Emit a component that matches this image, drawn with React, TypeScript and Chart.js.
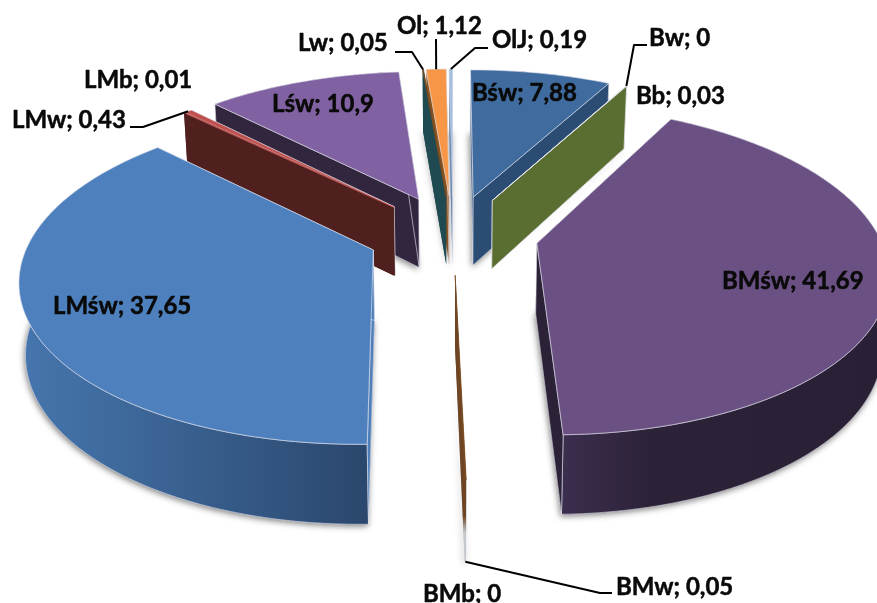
import React, { useEffect, useRef } from "react";
import { Chart, registerables } from "chart.js";

Chart.register(...registerables);

// ---- data ----
const categories = ["Bśw", "Bw", "Bb", "BMśw", "BMw", "BMb", "LMśw", "LMb", "LMw", "Lśw", "Lw", "Ol", "OlJ"];
const shares = [7.88, 0, 0.03, 41.69, 0.05, 0, 37.65, 0.01, 0.43, 10.9, 0.05, 1.12, 0.19];
const shareText = ["7,88", "0", "0,03", "41,69", "0,05", "0", "37,65", "0,01", "0,43", "10,9", "0,05", "1,12", "0,19"];

// ---- styles ----
const topColors = ["#3f6b9e", "#4f81bd", "#5f7a36", "#6a5083", "#7a4a20", "#7a4a20", "#4d80bd", "#c0504d", "#c0504d", "#8061a1", "#7a4a20", "#f79646", "#a5bfe0"];
const wallColors: string[][] = [
  ["#2c4d73", "#2c4d73", "#2c4d73"],
  ["#2c4d73", "#2c4d73", "#2c4d73"],
  ["#5b6e32", "#5b6e32", "#5b6e32"],
  ["#3c2e4e", "#2d2339", "#2a2035"],
  ["#c4c8cc", "#c4c8cc", "#c4c8cc"],
  ["#c4c8cc", "#c4c8cc", "#c4c8cc"],
  ["#4676ae", "#3f6b9e", "#2b476d"],
  ["#4f201e", "#4f201e", "#4f201e"],
  ["#4f201e", "#4f201e", "#4f201e"],
  ["#32263f", "#32263f", "#32263f"],
  ["#1f4a52", "#1f4a52", "#1f4a52"],
  ["#8a5320", "#8a5320", "#8a5320"],
  ["#5f7fa8", "#5f7fa8", "#5f7fa8"],
];
const faceColors = ["#2c4d73", "#2c4d73", "#5b6e32", "#2c2238", "#6d4524", "#6d4524", "#4f7fb9", "#4f201e", "#4f201e", "#32263f", "#1f4a52", "#8a5320", "#5f7fa8"];
const faceFade: (string | null)[] = [null, null, null, null, "#c4c8cc", null, null, null, null, null, null, null, null];
const edgeAlpha = [0.6, 0, 0.7, 0.6, 0, 0, 0.6, 0, 0.5, 0.6, 0, 0.5, 0.3];

// ---- camera of the 3-D view ----
const PIE_RADIUS = 342;
const EXPLODE = 85.5;
const TILT = 0.462;
const PERSPECTIVE = 0.158;
const THICKNESS = 70;
const THICKNESS_POWER = 0.7;
const BASE_SHRINK = 0.985;

// ---- label layout: [left, vertical centre] ----
const labelPos: number[][] = [
  [472, 93], [649, 38], [636, 96], [722, 281], [616, 587], [423, 594], [53, 306],
  [84, 80], [12, 120], [272, 104], [298, 43], [397, 26], [492, 40],
];
// elbow points of leader lines; the end is anchored on the rim of the slice
const leaders: { index: number; points: number[][]; base?: boolean }[] = [
  { index: 10, points: [[395, 52], [412, 52]] },
  { index: 11, points: [[436, 39]] },
  { index: 12, points: [[488, 48], [475, 48]] },
  { index: 2, points: [[647, 45], [634, 45]] },
  { index: 8, points: [[130, 127], [143, 127]] },
  { index: 4, points: [[612, 593], [600, 593]], base: true },
];

function geometry(arc: any) {
  const p = arc.getProps(["x", "y", "startAngle", "endAngle", "outerRadius"], true);
  const R = p.outerRadius;
  const e = (arc.options.offset || 0) / R;
  const a0 = p.startAngle + Math.PI / 2;
  const a1 = p.endAngle + Math.PI / 2;
  const mid = (a0 + a1) / 2;
  const ox = Math.sin(mid) * e;
  const oy = -Math.cos(mid) * e;
  const project = (x: number, y: number, base: boolean) => {
    const s = 1 / (1 - PERSPECTIVE * y);
    let X = R * x * s;
    let Y = R * TILT * y * s;
    if (base) {
      X *= BASE_SHRINK;
      Y += THICKNESS * Math.pow(s, THICKNESS_POWER);
    }
    return [p.x + X, p.y + Y];
  };
  const rim = (a: number, base: boolean) => project(ox + Math.sin(a), oy - Math.cos(a), base);
  const vertex = (base: boolean) => project(ox, oy, base);
  const steps = Math.max(1, Math.ceil(((a1 - a0) * 180) / Math.PI));
  const angles: number[] = [];
  for (let k = 0; k <= steps; k++) angles.push(a0 + ((a1 - a0) * k) / steps);
  return { a0, a1, mid, oy, rim, vertex, angles };
}

function poly(ctx: CanvasRenderingContext2D, pts: number[][]) {
  ctx.beginPath();
  pts.forEach((q, i) => (i ? ctx.lineTo(q[0], q[1]) : ctx.moveTo(q[0], q[1])));
  ctx.closePath();
}

const pie3d = {
  id: "pie3d",
  beforeDatasetDraw(chart: any, args: any) {
    const ctx: CanvasRenderingContext2D = chart.ctx;
    const arcs = args.meta.data;
    const order = arcs
      .map((arc: any, i: number) => ({ i, g: geometry(arc) }))
      .filter((o: any) => shares[o.i] > 0)
      .sort((a: any, b: any) => a.g.oy - b.g.oy);
    ctx.save();
    ctx.lineJoin = "round";
    for (const { i, g } of order) {
      const top = [g.vertex(false), ...g.angles.map((a: number) => g.rim(a, false))];
      const base = [g.vertex(true), ...g.angles.map((a: number) => g.rim(a, true))];
      const edge = `rgba(235,235,245,${edgeAlpha[i]})`;
      ctx.lineWidth = 1;
      ctx.strokeStyle = edge;

      // soft shadow of the underside
      ctx.save();
      ctx.shadowColor = "rgba(0,0,0,0.5)";
      ctx.shadowBlur = 6;
      ctx.shadowOffsetX = -1;
      ctx.shadowOffsetY = 2;
      ctx.fillStyle = wallColors[i][2];
      poly(ctx, base);
      ctx.fill();
      ctx.restore();

      // outer wall
      const tops = g.angles.map((a: number) => g.rim(a, false));
      const bottoms = g.angles.map((a: number) => g.rim(a, true));
      const xs = tops.map((q: number[]) => q[0]);
      const grad = ctx.createLinearGradient(Math.min(...xs), 0, Math.max(...xs) + 0.01, 0);
      grad.addColorStop(0, wallColors[i][0]);
      grad.addColorStop(0.25, wallColors[i][1]);
      grad.addColorStop(1, wallColors[i][2]);
      ctx.fillStyle = grad;
      poly(ctx, [...tops, ...bottoms.reverse()]);
      ctx.fill();
      if (edgeAlpha[i]) ctx.stroke();

      // the two cut faces
      for (const a of [g.a0, g.a1]) {
        const fade = faceFade[i];
        if (fade) {
          const v = g.vertex(false);
          const b = g.rim(a, true);
          const fg = ctx.createLinearGradient(0, v[1], 0, b[1]);
          fg.addColorStop(0, faceColors[i]);
          fg.addColorStop(0.84, faceColors[i]);
          fg.addColorStop(0.9, fade);
          fg.addColorStop(1, fade);
          ctx.fillStyle = fg;
        } else {
          ctx.fillStyle = faceColors[i];
        }
        poly(ctx, [g.vertex(false), g.rim(a, false), g.rim(a, true), g.vertex(true)]);
        ctx.fill();
        if (edgeAlpha[i]) ctx.stroke();
      }

      // top face
      ctx.fillStyle = topColors[i];
      poly(ctx, top);
      ctx.fill();
      if (edgeAlpha[i]) {
        ctx.stroke();
      } else {
        ctx.strokeStyle = topColors[i];
        ctx.lineWidth = 0.7;
        ctx.stroke();
      }
    }
    ctx.restore();
    return false;
  },
  afterDatasetsDraw(chart: any) {
    const ctx: CanvasRenderingContext2D = chart.ctx;
    const arcs = chart.getDatasetMeta(0).data;
    ctx.save();
    ctx.strokeStyle = "#000";
    ctx.lineWidth = 2;
    ctx.lineJoin = "round";
    for (const l of leaders) {
      const g = geometry(arcs[l.index]);
      const end = g.rim(g.mid, !!l.base);
      ctx.beginPath();
      l.points.forEach((q, k) => (k ? ctx.lineTo(q[0], q[1]) : ctx.moveTo(q[0], q[1])));
      ctx.lineTo(end[0], end[1]);
      ctx.stroke();
    }
    ctx.fillStyle = "#0a0a0a";
    ctx.strokeStyle = "#0a0a0a";
    ctx.lineWidth = 0.5;
    ctx.font = "bold 24px Lato";
    ctx.textAlign = "left";
    ctx.textBaseline = "middle";
    categories.forEach((c, i) => {
      const t = `${c}; ${shareText[i]}`;
      ctx.fillText(t, labelPos[i][0], labelPos[i][1]);
      ctx.strokeText(t, labelPos[i][0], labelPos[i][1]);
    });
    ctx.restore();
  },
};

export default function App() {
  const ref = useRef<HTMLCanvasElement>(null);
  useEffect(() => {
    const chart = new Chart(ref.current as HTMLCanvasElement, {
      type: "pie",
      data: {
        labels: categories,
        datasets: [{ data: shares, backgroundColor: topColors, borderWidth: 0, offset: EXPLODE, clip: false } as any],
      },
      options: {
        animation: false,
        responsive: false,
        radius: PIE_RADIUS,
        layout: { padding: { left: 29, bottom: 135 } },
        plugins: { legend: { display: false }, tooltip: { enabled: false } },
      } as any,
      plugins: [pie3d as any],
    });
    return () => chart.destroy();
  }, []);
  return (
    <canvas
      ref={ref}
      width={877}
      height={603}
      style={{ position: "absolute", left: 0, top: 0, width: 877, height: 603, display: "block" }}
    />
  );
}
